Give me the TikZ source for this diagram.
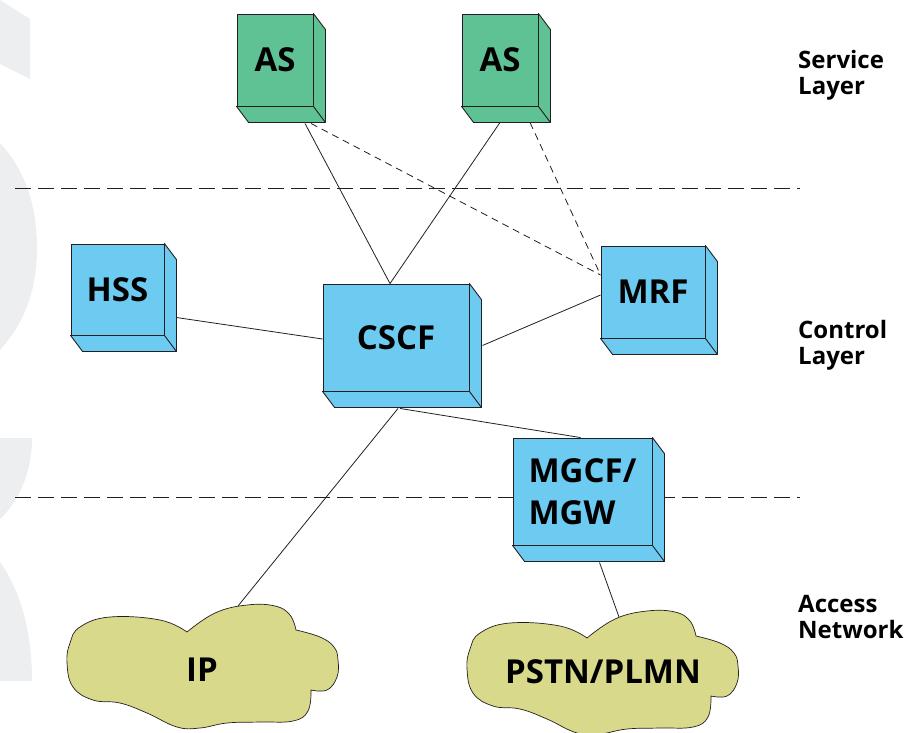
\documentclass[tikz,border=0pt]{standalone}
\usepackage{fontspec}
\setmainfont{Open Sans}
\usetikzlibrary{positioning, calc, backgrounds}
\definecolor{cGreen}{RGB}{95,194,148}
\definecolor{cBlue}{RGB}{109,202,240}
\definecolor{cOlive}{RGB}{216,217,138}
\definecolor{cEdge}{RGB}{35,31,32}
\definecolor{cWater}{RGB}{237,238,240}
\tikzset{
    box/.style      ={rectangle, draw=cEdge, line width=0.9pt, fill=cBlue, inner sep=0pt, align=left, font=\fontsize{33}{42}\selectfont\bfseries},
    asbox/.style    ={box, fill=cGreen},
    cloudtext/.style={inner sep=0pt, font=\fontsize{33}{42}\selectfont\bfseries},
    layerlabel/.style={anchor=base west, align=left, inner sep=0pt, font=\fontsize{24}{26}\selectfont\bfseries},
    link/.style     ={line width=0.8pt, draw=cEdge},
    dashlink/.style ={link, dash pattern=on 7pt off 5pt},
    layerline/.style={line width=0.8pt, draw=cEdge, dash pattern=on 16pt off 7pt},
    blob/.pic={
        \path[draw=cEdge, line width=0.7pt, fill=cOlive]
            plot[smooth, tension=0.7] coordinates {(-13,-33) (15,-52) (47,-60) (75,-59) (90,-50) (96,-35)}
            -- plot[smooth, tension=0.7] coordinates {(96,-35) (120,-28) (134,-18) (138,-5) (137,12) (127,25) (111,25)}
            -- plot[smooth, tension=0.7] coordinates {(111,25) (108,46) (93,56) (60,57) (27,58) (0,63) (-23,62) (-53,48) (-80,38) (-107,35) (-127,22) (-133,-2) (-130,-22) (-120,-38) (-90,-48) (-40,-45) (-13,-33)}
            -- cycle;
    },
}

\begin{document}
\begin{tikzpicture}[x=1pt, y=-1pt]
        \useasboundingbox (0,0) rectangle (905,732);
        \clip (0,0) rectangle (905,732);
        % networks
        \pic at (200,665) {blob};
        \pic at (600,671) {blob};
        \node[cloudtext] (ip) at (202,670) {IP};
        \node[cloudtext] (pstn) at (603,672) {PSTN/PLMN};
        \coordinate (ip-top) at (238,606);
        \coordinate (pstn-top) at (619,617);
        % boxes
        \node[asbox, minimum width=76, minimum height=92] (as1) at (275,60) {AS};
        \node[asbox, minimum width=76, minimum height=92] (as2) at (500,60) {AS};
        \node[box, minimum width=93, minimum height=91] (hss) at (117.5,289.5) {HSS};
        \node[box, minimum width=146, minimum height=107] (cscf) at (396,337.5) {CSCF};
        \node[box, minimum width=104, minimum height=92] (mrf) at (653,292) {MRF};
        \node[box, minimum width=139, minimum height=107] (mgcf) at (582.5,491.5) {MGCF/\\MGW};
        \foreach \n/\c in {as1/cGreen, as2/cGreen, hss/cBlue, cscf/cBlue, mrf/cBlue, mgcf/cBlue}{
            \draw[line width=0.9pt, draw=cEdge, fill=\c, line join=round] (\n.north east) -- ++(12,16) -- ($(\n.south east)+(12,16)$) -- ($(\n.south west)+(12,16)$) -- (\n.south west) -- (\n.south east) -- cycle;
            \draw[line width=0.9pt, draw=cEdge] (\n.south east) -- ++(12,16);
        }
        % layers
        \node[layerlabel] (svc) at (798,94) {Service\\Layer};
        \node[layerlabel] (ctl) at (798,364) {Control\\Layer};
        \node[layerlabel] (acc) at (798,638) {Access\\Network};
        \begin{scope}[on background layer]
            \fill[cWater] (0,0) -- (30,19) -- (30,79) -- (0,64) -- cycle;
            \fill[cWater] (0,143) .. controls (25,170) and (37,205) .. (37,248) .. controls (37,290) and (25,322) .. (0,350) -- cycle;
            \fill[cWater] (0,438) -- (32,438) .. controls (32,475) and (17,503) .. (0,519) -- cycle;
            \fill[cWater] (0,562) .. controls (20,590) and (32,630) .. (32,681) -- (0,681) -- cycle;
            \draw[layerline] (15,188) -- (800,188);
            \draw[layerline] (15,497) -- (800,497);
            \draw[link] ($(as1.south)+(30,17)$) -- ($(cscf.north)+(-6,0)$);
            \draw[link] ($(as2.south)+(0,16)$) -- ($(cscf.north)+(-6,0)$);
            \draw[dashlink] ($(as1.south)+(36,17)$) -- ($(mrf.west)+(0,-17)$);
            \draw[dashlink] ($(as2.south)+(30,16)$) -- ($(mrf.west)+(0,-17)$);
            \draw[link] ($(hss.east)+(12,28)$) -- ($(cscf.west)+(0,1.5)$);
            \draw[link] ($(cscf.east)+(13,8)$) -- ($(mrf.west)+(0,3)$);
            \draw[link] ($(cscf.south)+(4,17)$) -- ($(mgcf.north)+(-2,0)$);
            \draw[link] ($(cscf.south)+(2,17)$) -- (ip-top);
            \draw[link] ($(mgcf.south)+(17,17)$) -- (pstn-top);
        \end{scope}
    \end{tikzpicture}
\end{document}
